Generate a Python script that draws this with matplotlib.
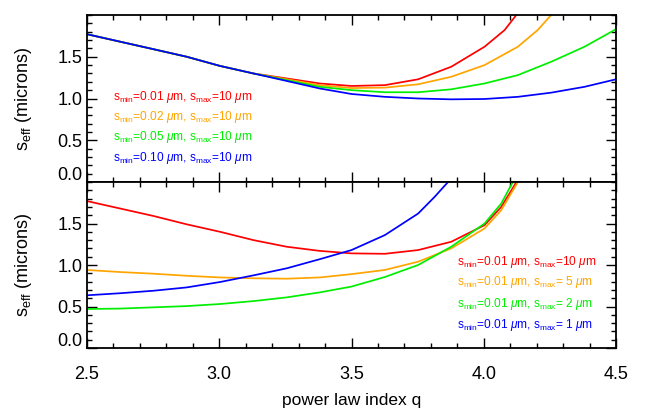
import matplotlib
matplotlib.use("Agg")
import matplotlib.pyplot as plt
from matplotlib.ticker import MultipleLocator, FixedLocator, FormatStrFormatter
import matplotlib.transforms as mtransforms

plt.rcParams['font.family'] = ['Liberation Sans', 'DejaVu Sans']
plt.rcParams['mathtext.fontset'] = 'custom'
plt.rcParams['mathtext.rm'] = 'Liberation Sans'
plt.rcParams['mathtext.it'] = 'Liberation Sans:italic'

# ---- top panel data (s_max = 10 um, varying s_min) ----
q_top_common = [2.5, 2.626, 2.752, 2.877, 3.003, 3.129]
s_top_common = [1.77, 1.68, 1.59, 1.50, 1.39, 1.30]

q_top_red = [3.255, 3.38, 3.5, 3.626, 3.752, 3.877, 4.003, 4.079, 4.123]
s_top_red = [1.24, 1.18, 1.15, 1.16, 1.23, 1.38, 1.62, 1.82, 2.0]

q_top_orange = [3.255, 3.38, 3.5, 3.626, 3.752, 3.877, 4.003, 4.129, 4.204, 4.255]
s_top_orange = [1.23, 1.16, 1.125, 1.13, 1.17, 1.26, 1.40, 1.62, 1.82, 2.0]

q_top_green = [3.255, 3.38, 3.5, 3.626, 3.752, 3.877, 4.003, 4.129, 4.255, 4.381, 4.5]
s_top_green = [1.22, 1.14, 1.10, 1.075, 1.075, 1.11, 1.18, 1.28, 1.44, 1.62, 1.83]

q_top_blue = [3.255, 3.38, 3.5, 3.626, 3.752, 3.877, 4.003, 4.129, 4.255, 4.381, 4.5]
s_top_blue = [1.21, 1.12, 1.054, 1.02, 1.00, 0.99, 0.994, 1.02, 1.07, 1.14, 1.23]

# ---- bottom panel data (s_min = 0.01 um, varying s_max) ----
q_bot_red = [2.5, 2.626, 2.752, 2.877, 3.003, 3.129, 3.255, 3.38, 3.5, 3.626,
             3.752, 3.877, 4.003, 4.066, 4.116, 4.123]
s_bot_red = [1.77, 1.68, 1.59, 1.49, 1.40, 1.30, 1.22, 1.17, 1.14, 1.135,
             1.18, 1.28, 1.48, 1.70, 1.96, 2.0]

q_bot_orange = [2.5, 2.626, 2.752, 2.877, 3.003, 3.129, 3.255, 3.38, 3.5, 3.626,
                3.752, 3.877, 4.003, 4.066, 4.129]
s_bot_orange = [0.94, 0.915, 0.895, 0.87, 0.85, 0.84, 0.835, 0.85, 0.89, 0.94,
                1.04, 1.20, 1.44, 1.66, 2.0]

q_bot_green = [2.5, 2.626, 2.752, 2.877, 3.003, 3.129, 3.255, 3.38, 3.5, 3.626,
               3.752, 3.877, 4.003, 4.066, 4.11]
s_bot_green = [0.47, 0.475, 0.49, 0.505, 0.53, 0.565, 0.61, 0.67, 0.74, 0.855,
               1.00, 1.22, 1.50, 1.74, 2.0]

q_bot_blue = [2.5, 2.626, 2.752, 2.877, 3.003, 3.129, 3.255, 3.38, 3.5, 3.626,
              3.752, 3.814, 3.865]
s_bot_blue = [0.635, 0.66, 0.69, 0.73, 0.795, 0.875, 0.96, 1.07, 1.18, 1.36,
              1.62, 1.82, 2.0]

top_labels = [r"s$_{\rm min}$=0.01 $\mu$m, s$_{\rm max}$=10 $\mu$m",
              r"s$_{\rm min}$=0.02 $\mu$m, s$_{\rm max}$=10 $\mu$m",
              r"s$_{\rm min}$=0.05 $\mu$m, s$_{\rm max}$=10 $\mu$m",
              r"s$_{\rm min}$=0.10 $\mu$m, s$_{\rm max}$=10 $\mu$m"]
bot_labels = [r"s$_{\rm min}$=0.01 $\mu$m, s$_{\rm max}$=10 $\mu$m",
              r"s$_{\rm min}$=0.01 $\mu$m, s$_{\rm max}$= 5 $\mu$m",
              r"s$_{\rm min}$=0.01 $\mu$m, s$_{\rm max}$= 2 $\mu$m",
              r"s$_{\rm min}$=0.01 $\mu$m, s$_{\rm max}$= 1 $\mu$m"]
colors = ["#ff0000", "#ffa500", "#00ee00", "#0000ff"]

fig = plt.figure(figsize=(6.46, 4.2), dpi=100)
W, H = 646, 420
left, right = 87, 616
ax1 = fig.add_axes([left / W, (H - 182) / H, (right - left) / W, 167 / H])
ax2 = fig.add_axes([left / W, (H - 348) / H, (right - left) / W, 166 / H])

lw = 1.25
top_series = [(q_top_red, s_top_red), (q_top_orange, s_top_orange),
              (q_top_green, s_top_green), (q_top_blue, s_top_blue)]
for (qq, ss), c in zip(top_series, colors):
    ax1.plot(q_top_common + qq, s_top_common + ss, color=c, lw=lw)
bot_series = [(q_bot_red, s_bot_red), (q_bot_orange, s_bot_orange),
              (q_bot_green, s_bot_green), (q_bot_blue, s_bot_blue)]
for (qq, ss), c in zip(bot_series, colors):
    ax2.plot(qq, ss, color=c, lw=lw)

for ax in (ax1, ax2):
    ax.set_xlim(2.5, 4.5)
    ax.set_ylim(0.0, 2.0)
    ax.xaxis.set_major_locator(FixedLocator([2.5, 3.0, 3.5, 4.0, 4.5]))
    ax.xaxis.set_minor_locator(MultipleLocator(0.1))
    ax.xaxis.set_major_formatter(FormatStrFormatter('%.1f'))
    ax.yaxis.set_major_locator(FixedLocator([0.0, 0.5, 1.0, 1.5]))
    ax.yaxis.set_minor_locator(MultipleLocator(0.1))
    ax.yaxis.set_major_formatter(FormatStrFormatter('%.1f'))
    ax.tick_params(which='both', direction='in', top=True, right=True,
                   width=1.0, colors='black')
    ax.tick_params(which='major', length=7, labelsize=13)
    ax.tick_params(which='minor', length=3.6)
    for sp in ax.spines.values():
        sp.set_linewidth(1.3)
    ax.set_ylabel(r"s$_{\rm eff}$ (microns)", fontsize=13)
    ax.yaxis.set_label_coords(-0.1, 0.5)

ax1.tick_params(labelbottom=False)
ax2.tick_params(axis='x', pad=13)
ax2.set_xlabel("power law index q", fontsize=12.5, labelpad=7)

fig.canvas.draw()
for ax in (ax1, ax2):
    lab0 = ax.get_yticklabels()[0]
    lab0.set_transform(lab0.get_transform() +
                       mtransforms.ScaledTranslation(0, 8 / 100, fig.dpi_scale_trans))

top_y = [97, 117, 137, 158]
for lab, c, yy in zip(top_labels, colors, top_y):
    fig.text(113 / W, 1 - yy / H, lab, color=c, fontsize=8.6, va='center', ha='left')
bot_y = [262, 282, 304, 325]
for lab, c, yy in zip(bot_labels, colors, bot_y):
    fig.text(457 / W, 1 - yy / H, lab, color=c, fontsize=8.6, va='center', ha='left')

fig.savefig("out.png", dpi=100)
